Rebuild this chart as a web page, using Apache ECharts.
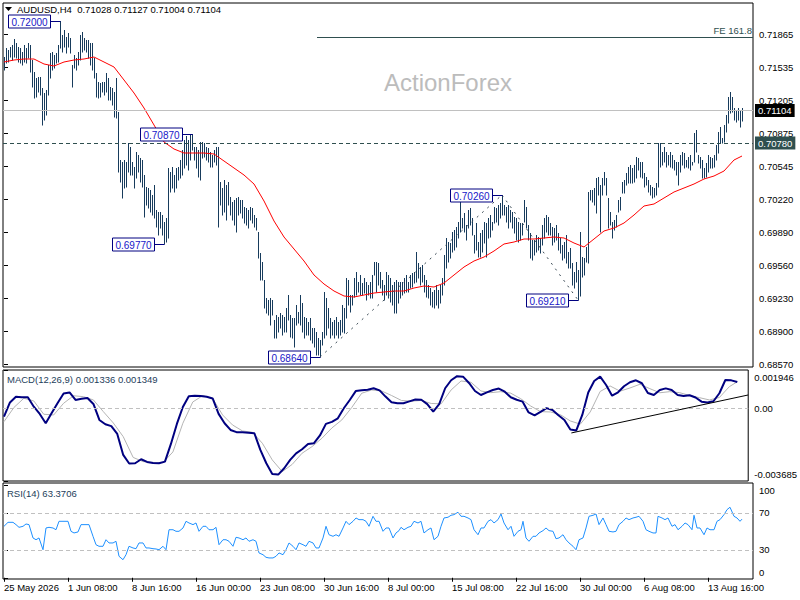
<!DOCTYPE html>
<html><head><meta charset="utf-8">
<script src="https://cdn.jsdelivr.net/npm/echarts@6/dist/echarts.min.js"></script>
<style>html,body{margin:0;padding:0;background:#fff}#c{width:800px;height:600px}</style>
</head><body><div id="c"></div>
<script>
const highs = [
0.7164,0.7173,0.7171,0.7174,0.7176,0.7182,0.7178,0.7174,0.7173,0.7169,
0.7176,0.7173,0.7178,0.7176,0.7161,0.7149,0.7143,0.7144,0.7144,0.7133,
0.7128,0.7131,0.7156,0.7168,0.7169,0.7166,0.7168,0.7176,0.7200,0.7186,
0.7191,0.7184,0.7188,0.7183,0.7156,0.7166,0.7163,0.7169,0.7186,0.7189,
0.7183,0.7181,0.7181,0.7178,0.7178,0.7163,0.7148,0.7139,0.7138,0.7139,
0.7139,0.7148,0.7143,0.7134,0.7133,0.7129,0.7143,0.7109,0.7061,0.7059,
0.7061,0.7059,0.7078,0.7074,0.7059,0.7054,0.7069,0.7066,0.7063,0.7061,
0.7046,0.7034,0.7033,0.7031,0.7026,0.7036,0.7011,0.7009,0.7009,0.7006,
0.6999,0.7003,0.7053,0.7049,0.7054,0.7046,0.7053,0.7054,0.7061,0.7071,
0.7081,0.7085,0.7081,0.7086,0.7087,0.7074,0.7074,0.7071,0.7079,0.7079,
0.7078,0.7074,0.7073,0.7069,0.7066,0.7071,0.7074,0.7074,0.7039,0.7033,
0.7041,0.7036,0.7039,0.7024,0.7019,0.7021,0.7023,0.7024,0.7021,0.7021,
0.7014,0.7013,0.7011,0.7014,0.7013,0.7006,0.7003,0.6989,0.6968,0.6959,
0.6941,0.6923,0.6921,0.6923,0.6921,0.6901,0.6906,0.6904,0.6908,0.6906,
0.6904,0.6913,0.6926,0.6906,0.6903,0.6903,0.6916,0.6909,0.6926,0.6918,
0.6904,0.6903,0.6899,0.6903,0.6893,0.6893,0.6889,0.6883,0.6881,0.6889,
0.6929,0.6923,0.6913,0.6903,0.6899,0.6901,0.6904,0.6899,0.6901,0.6916,
0.6913,0.6943,0.6941,0.6926,0.6926,0.6943,0.6949,0.6939,0.6946,0.6938,
0.6943,0.6939,0.6936,0.6939,0.6946,0.6959,0.6959,0.6958,0.6949,0.6941,
0.6936,0.6949,0.6946,0.6943,0.6936,0.6939,0.6941,0.6939,0.6939,0.6939,
0.6943,0.6946,0.6939,0.6946,0.6948,0.6949,0.6969,0.6958,0.6954,0.6956,
0.6946,0.6941,0.6936,0.6933,0.6929,0.6931,0.6936,0.6931,0.6936,0.6943,
0.6966,0.6983,0.6979,0.6978,0.6989,0.6991,0.6994,0.6999,0.7021,0.7003,
0.7008,0.6996,0.7011,0.7013,0.7003,0.6986,0.6998,0.6979,0.6988,0.6991,
0.6999,0.6998,0.7003,0.7006,0.6999,0.7014,0.7013,0.7016,0.7018,0.7026,
0.7016,0.7014,0.7016,0.7011,0.7009,0.7004,0.7003,0.6999,0.6998,0.6998,
0.7021,0.7014,0.6996,0.6988,0.6981,0.6981,0.6986,0.6984,0.6983,0.6996,
0.7003,0.7006,0.7004,0.6998,0.6994,0.6993,0.6996,0.6988,0.6983,0.6976,
0.6979,0.6986,0.6969,0.6973,0.6958,0.6949,0.6959,0.6951,0.6989,0.6964,
0.6963,0.6974,0.7029,0.7031,0.7031,0.7033,0.7043,0.7044,0.7036,0.7043,
0.7049,0.7043,0.7023,0.7009,0.6999,0.7001,0.7006,0.7021,0.7024,0.7039,
0.7041,0.7048,0.7054,0.7056,0.7053,0.7056,0.7064,0.7063,0.7059,0.7059,
0.7048,0.7044,0.7041,0.7036,0.7034,0.7033,0.7038,0.7078,0.7078,0.7069,
0.7074,0.7069,0.7066,0.7069,0.7066,0.7061,0.7059,0.7059,0.7066,0.7069,
0.7068,0.7061,0.7064,0.7066,0.7059,0.7088,0.7091,0.7066,0.7064,0.7061,
0.7053,0.7058,0.7066,0.7064,0.7063,0.7066,0.7076,0.7089,0.7094,0.7083,
0.7096,0.7106,0.7124,0.7129,0.7124,0.7113,0.7111,0.7113,0.7111,0.71127
];
const lows = [
0.7151,0.7158,0.7159,0.7164,0.7161,0.7164,0.7163,0.7159,0.7158,0.7156,
0.7159,0.7158,0.7163,0.7149,0.7134,0.7123,0.7124,0.7129,0.7126,0.7096,
0.7101,0.7106,0.7126,0.7143,0.7151,0.7153,0.7158,0.7159,0.7173,0.7169,
0.7174,0.7168,0.7174,0.7168,0.7134,0.7153,0.7151,0.7156,0.7161,0.7169,
0.7171,0.7169,0.7163,0.7156,0.7151,0.7143,0.7124,0.7123,0.7124,0.7129,
0.7126,0.7129,0.7121,0.7121,0.7116,0.7104,0.7103,0.7049,0.7039,0.7023,
0.7033,0.7034,0.7049,0.7046,0.7046,0.7033,0.7043,0.7049,0.7039,0.7034,
0.7004,0.7016,0.7013,0.7009,0.7006,0.7003,0.6994,0.6986,0.6993,0.6986,
0.6977,0.6979,0.6983,0.7029,0.7033,0.7029,0.7033,0.7041,0.7043,0.7046,
0.7053,0.7056,0.7051,0.7061,0.7071,0.7061,0.7053,0.7044,0.7041,0.7063,
0.7064,0.7061,0.7059,0.7054,0.7054,0.7059,0.7056,0.6994,0.7016,0.7006,
0.7009,0.7001,0.7016,0.7006,0.7001,0.6996,0.6989,0.7006,0.7008,0.7003,
0.6998,0.6996,0.6993,0.7001,0.6998,0.6994,0.6991,0.6963,0.6941,0.6941,
0.6913,0.6908,0.6906,0.6896,0.6906,0.6883,0.6883,0.6889,0.6893,0.6886,
0.6889,0.6889,0.6901,0.6884,0.6883,0.6874,0.6896,0.6898,0.6896,0.6889,
0.6883,0.6886,0.6886,0.6881,0.6878,0.6874,0.6866,0.6866,0.6864,0.6876,
0.6883,0.6886,0.6893,0.6883,0.6886,0.6883,0.6886,0.6883,0.6886,0.6889,
0.6888,0.6903,0.6916,0.6909,0.6916,0.6924,0.6926,0.6929,0.6926,0.6926,
0.6928,0.6921,0.6926,0.6923,0.6923,0.6946,0.6929,0.6936,0.6933,0.6926,
0.6921,0.6926,0.6923,0.6919,0.6916,0.6908,0.6908,0.6918,0.6923,0.6926,
0.6928,0.6929,0.6929,0.6933,0.6934,0.6938,0.6939,0.6943,0.6936,0.6939,
0.6929,0.6924,0.6923,0.6916,0.6914,0.6913,0.6916,0.6913,0.6918,0.6926,
0.6936,0.6953,0.6959,0.6963,0.6969,0.6971,0.6974,0.6983,0.6989,0.6993,
0.6989,0.6981,0.6993,0.6996,0.6986,0.6968,0.6971,0.6964,0.6964,0.6969,
0.6978,0.6964,0.6983,0.6984,0.6991,0.6998,0.6999,0.6996,0.7003,0.7006,
0.7006,0.6999,0.6993,0.6999,0.6993,0.6988,0.6981,0.6979,0.6981,0.6986,
0.6999,0.6993,0.6981,0.6963,0.6961,0.6966,0.6969,0.6971,0.6968,0.6976,
0.6983,0.6989,0.6986,0.6986,0.6976,0.6979,0.6981,0.6971,0.6968,0.6961,
0.6963,0.6958,0.6953,0.6953,0.6936,0.6933,0.6939,0.6921,0.6925,0.6944,
0.6946,0.6959,0.6958,0.7021,0.7019,0.7016,0.7008,0.7026,0.6989,0.7026,
0.7036,0.7026,0.6993,0.6996,0.6983,0.6991,0.6994,0.7009,0.7011,0.7028,
0.7028,0.7036,0.7038,0.7038,0.7038,0.7039,0.7043,0.7051,0.7044,0.7043,
0.7034,0.7036,0.7029,0.7026,0.7023,0.7024,0.7026,0.7034,0.7054,0.7056,
0.7059,0.7054,0.7056,0.7054,0.7053,0.7051,0.7046,0.7036,0.7049,0.7056,
0.7053,0.7054,0.7053,0.7051,0.7056,0.7059,0.7069,0.7058,0.7053,0.7043,
0.7043,0.7044,0.7049,0.7053,0.7053,0.7054,0.7061,0.7068,0.7078,0.7078,
0.7079,0.7089,0.7098,0.7108,0.7109,0.7101,0.7099,0.7101,0.7094,0.71004
];
const ma = [
[0,0.7159],[5,0.7161],[10,0.7162],[15,0.7162],[20,0.7157],[25,0.7155],[30,0.7159],[35,0.7161],[40,0.7162],[45,0.7164],
[50,0.7159],[55,0.7154],[60,0.7141],[65,0.7128],[70,0.7113],[75,0.7096],[80,0.7079],[85,0.7072],[90,0.7068],[95,0.7068],
[100,0.7068],[105,0.7067],[110,0.7060],[115,0.7053],[120,0.7046],[125,0.7037],[130,0.7020],[135,0.7000],[140,0.6984],[145,0.6972],
[150,0.6960],[155,0.6946],[160,0.6937],[165,0.6930],[170,0.6925],[175,0.6924],[180,0.6926],[185,0.6928],[190,0.6929],[195,0.6930],
[200,0.6930],[205,0.6933],[210,0.6935],[215,0.6934],[220,0.6938],[225,0.6946],[230,0.6954],[235,0.6960],[240,0.6964],[245,0.6970],
[250,0.6977],[255,0.6979],[260,0.6982],[265,0.6982],[270,0.6983],[275,0.6984],[280,0.6983],[285,0.6978],[290,0.6974],[295,0.6982],
[300,0.6990],[305,0.6993],[310,0.6998],[315,0.7006],[320,0.7015],[325,0.7017],[330,0.7023],[335,0.7029],[340,0.7033],[345,0.7037],
[350,0.7042],[355,0.7045],[360,0.7050],[365,0.7061],[369,0.7065]
];
// MACD main, one reading every 3 bars (bar 0..369)
const macdMain = [
-0.000421,0.000299,0.000588,0.000563,0.000563,0.000086,-0.000284,-0.000755,-0.000233,0.000274,
0.000755,0.000806,0.000426,0.000487,0.000527,0.000223,-0.000588,-0.000806,-0.000902,-0.001298,
-0.002363,-0.002799,-0.002783,-0.002581,-0.002718,-0.002768,-0.002783,-0.002702,-0.001805,-0.000791,
0.000071,0.000619,0.000644,0.000629,0.000593,0.000502,-0.000279,-0.000755,-0.001095,-0.001207,
-0.001212,-0.001232,-0.001262,-0.002109,-0.002783,-0.003326,-0.003361,-0.003037,-0.002616,-0.002282,
-0.002074,-0.001810,-0.001769,-0.001374,-0.000786,-0.000684,-0.000507,0.000005,0.000426,0.000877,
0.000923,0.000948,0.001019,0.000913,0.000598,0.000314,0.000259,0.000259,0.000355,0.000451,
0.000436,0.000213,-0.000167,0.000213,0.001019,0.001425,0.001633,0.001607,0.001288,0.000882,
0.000679,0.000811,0.000933,0.001004,0.000847,0.000563,0.000436,0.000340,-0.000208,-0.000355,
-0.000183,0.000010,-0.000081,-0.000350,-0.000588,-0.001075,-0.001120,-0.000335,0.000806,0.001389,
0.001607,0.001186,0.000644,0.000816,0.001120,0.001323,0.001425,0.001273,0.000781,0.000679,
0.000933,0.001014,0.000933,0.000674,0.000624,0.000664,0.000553,0.000340,0.000294,0.000360,
0.000766,0.001440,0.001420,0.001336
];
// MACD signal, one reading every 5 bars, last at bar 369
const macdSignal = [
-0.000674,0.000046,0.000512,0.000375,-0.000299,-0.000335,0.000259,0.000639,0.000593,0.000426,
-0.000167,-0.000740,-0.001435,-0.002489,-0.002702,-0.002743,-0.002753,-0.002211,-0.000755,0.000324,
0.000644,0.000502,-0.000335,-0.000842,-0.001146,-0.001212,-0.001769,-0.002616,-0.003209,-0.002844,
-0.002276,-0.001942,-0.001516,-0.000994,-0.000588,0.000046,0.000766,0.000933,0.000882,0.000654,
0.000401,0.000365,0.000401,0.000248,0.000233,0.000933,0.001389,0.001323,0.000882,0.000796,
0.000847,0.000771,0.000492,0.000122,-0.000167,-0.000183,-0.000324,-0.000639,-0.000801,-0.000183,
0.000857,0.001136,0.000872,0.001034,0.001222,0.000999,0.000791,0.000847,0.000796,0.000654,
0.000542,0.000426,0.000553,0.001100,0.001349
];
const rsi = [
[0,55.6],[2,59.9],[4.5,59.9],[6,57.4],[7.5,54.5],[9.5,55.6],[11,58.1],[12.5,57.4],[14.5,43.0],[16,41.1],[17.5,43.0],[19.5,30.3],
[21,53.8],[22.5,54.5],[24.5,53.8],[26,51.9],[27.5,61.0],[29.5,61.0],[32,61.0],[33.5,50.2],[35,48.4],[37,49.5],[38.5,57.4],[40,57.4],
[42.5,57.4],[44.5,44.8],[46,35.7],[47.5,34.0],[49.5,34.0],[51,41.1],[52.5,37.6],[54.5,37.6],[56,39.4],[57.5,23.2],[59.5,19.5],[61,24.9],
[62.5,34.0],[64.5,32.2],[66,31.4],[67.5,37.6],[69.5,37.6],[71,32.2],[72.5,32.2],[74.5,31.4],[76,31.1],[77.5,30.3],[79.5,34.0],[81,30.3],
[82.5,51.9],[84.5,51.9],[86,50.2],[87.5,50.2],[89.5,53.8],[91,61.0],[92.5,59.2],[94.5,57.4],[96,59.2],[97.5,50.2],[99.5,55.6],[101,55.6],
[102.5,51.9],[104.5,51.9],[106,54.5],[107.5,35.7],[109.5,41.1],[111,41.1],[112.5,39.4],[114.5,34.0],[116,43.7],[117.5,43.0],[119.5,41.1],[121,43.0],
[122.5,39.4],[124.5,41.1],[126,39.4],[127.5,26.8],[129.5,24.9],[131,22.1],[132.5,21.4],[134.5,21.4],[136,23.2],[137.5,26.8],[139.5,24.9],[141,30.3],
[142.5,37.6],[144.5,34.0],[146,30.3],[147.5,37.6],[149.5,35.7],[151,34.0],[152.5,39.4],[154.5,37.6],[156,32.2],[157.5,32.2],[159.5,43.0],[161,55.6],
[162.5,46.5],[164.5,44.8],[166,46.5],[167.5,44.8],[169.5,53.8],[171,61.0],[172.5,57.4],[174.5,61.0],[176,64.6],[177.5,62.8],[179.5,62.8],[181,61.0],
[182.5,55.6],[184.5,66.4],[186,61.0],[187.5,61.0],[189.5,50.2],[191,53.8],[192.5,53.8],[194.5,43.0],[196,48.4],[197.5,50.9],[198.5,54.5],[200,51.9],
[202,54.5],[203.5,55.6],[205,61.0],[207,59.2],[208.5,61.0],[210,48.4],[212,51.9],[213.5,53.8],[215,41.1],[217,44.8],[218.5,55.6],[220,64.6],
[222,65.4],[223.5,67.5],[225,68.2],[227,70.8],[228.5,66.4],[230,66.4],[232,64.6],[233.5,62.8],[235,51.9],[237,46.5],[238.5,53.8],[240,53.8],
[242,61.0],[243.5,62.8],[245,59.2],[247,62.8],[248.5,68.9],[250,59.2],[252,51.9],[253.5,55.6],[255,44.8],[257,50.2],[258.5,51.9],[259.5,61.0],
[261,43.0],[262.5,39.4],[264.5,44.8],[266,44.8],[267.5,48.4],[269.5,50.9],[271,53.8],[272.5,50.9],[274.5,50.2],[276,42.2],[277.5,43.0],[279.5,46.5],
[281,41.1],[282.5,37.6],[284.5,34.0],[286,30.3],[287.5,41.1],[289.5,43.0],[291,53.8],[292.5,66.4],[294.5,67.5],[296,68.9],[297.5,57.4],[299.5,64.6],
[301,57.4],[302.5,50.2],[304.5,49.5],[306,50.2],[307.5,57.4],[309.5,61.0],[311,64.6],[312.5,62.8],[314.5,64.6],[316,65.4],[317.5,66.4],[319.5,61.0],
[321,51.9],[322.5,50.2],[324.5,48.4],[326,48.4],[327,66.4],[329,64.6],[330.5,62.8],[332,64.6],[334,55.6],[335.5,57.4],[337,51.9],[339,55.6],
[340.5,59.2],[342,57.4],[344,51.9],[345,67.5],[346.5,53.8],[348,53.8],[350,46.5],[351.5,53.8],[353,51.9],[355,51.9],[356.5,61.0],[358,62.8],
[360,68.2],[361.5,73.6],[363,76.2],[365,66.4],[366.5,64.6],[368,61.0],[369,63.37]
];
const priceTicks = [0.68570,0.68900,0.69230,0.69560,0.69890,0.70220,0.70545,0.70875,0.71205,0.71535,0.71865];
const timeLabels = ['25 May 2026','1 Jun 08:00','8 Jun 16:00','16 Jun 00:00','23 Jun 08:00','30 Jun 16:00','8 Jul 00:00','15 Jul 08:00','22 Jul 16:00','30 Jul 00:00','6 Aug 08:00','13 Aug 16:00'];
const timeLabelBars = [0,32,64,96,128,160,192,224,256,288,320,352];
const pivotBar = [28,94,80,158,249,287];
const pivotPrice = [0.72000,0.70870,0.69770,0.68640,0.70260,0.69210];
const lastPrice = 0.71104;
const levelPrice = 0.70780;
const fePrice = 0.71840;
const feStartBar = 156.5;
const macdTrend = [[285.5,-0.001247],[374.5,0.000679]];
const macdMax = 0.001946, macdMin = -0.003685;
const rsiTicks = [100,70,30,0];
const rsiLevels = [70,30];

const FONT = 'Liberation Sans';
const X0 = -0.5, X1 = 374.5;
const chart = echarts.init(document.getElementById('c'), null, {renderer:'svg'});
const xBase = {type:'value', min:X0, max:X1, splitLine:{show:false}, axisLine:{show:false}};
const noX = Object.assign({}, xBase, {axisLabel:{show:false}, axisTick:{show:false}});
const lbl = {fontSize:9.5, color:'#000', fontFamily:FONT};
const tag = (v, bg) => ({show:true, position:'end', distance:2, formatter:v.toFixed(5), backgroundColor:bg, color:'#fff', padding:[2,3,1,3], fontSize:9.5, fontFamily:FONT});
const hLine = (v, style, label) => [{coord:[X0, v], lineStyle:style, label:label || {show:false}}, {coord:[X1, v]}];

chart.setOption({
  animation:false,
  textStyle:{fontFamily:FONT},
  grid:[
    {left:3, top:3, width:750, height:364, show:true, borderColor:'#000', borderWidth:1, backgroundColor:'transparent'},
    {left:3, top:370, width:750, height:111, show:true, borderColor:'#000', borderWidth:1},
    {left:3, top:483, width:750, height:96, show:true, borderColor:'#000', borderWidth:1}
  ],
  xAxis:[
    Object.assign({gridIndex:0}, noX),
    Object.assign({gridIndex:1}, noX),
    Object.assign({gridIndex:2}, xBase, {
      axisLabel:{show:true, customValues:timeLabelBars, formatter:v=>timeLabels[timeLabelBars.indexOf(v)], align:'left', margin:3, fontSize:9.5, color:'#000', fontFamily:FONT},
      axisTick:{show:true, customValues:timeLabelBars, length:4, lineStyle:{color:'#000'}}
    })
  ],
  yAxis:[
    {gridIndex:0, type:'value', position:'right', min:0.6854, max:0.7218, splitLine:{show:false}, axisLine:{show:false},
     axisTick:{show:true, customValues:priceTicks, length:4, lineStyle:{color:'#000'}},
     axisLabel:Object.assign({customValues:priceTicks, formatter:v=>v.toFixed(5), margin:6}, lbl)},
    {gridIndex:1, type:'value', position:'right', min:macdMin, max:macdMax, splitLine:{show:false}, axisLine:{show:false},
     axisTick:{show:true, customValues:[macdMax,0,macdMin], length:4, lineStyle:{color:'#000'}},
     axisLabel:Object.assign({customValues:[macdMax,0,macdMin], margin:6,
       formatter:v=>{ if(v===macdMax) return '{t|'+v.toFixed(6)+'}'; if(v===macdMin) return '{b|'+v.toFixed(6)+'}'; return '0.00'; },
       rich:{t:Object.assign({padding:[14,0,0,0]},lbl), b:Object.assign({padding:[0,0,14,0]},lbl)}}, lbl)},
    {gridIndex:2, type:'value', position:'right', min:-1.35, max:102.4, splitLine:{show:false}, axisLine:{show:false},
     axisTick:{show:true, customValues:rsiTicks, length:4, lineStyle:{color:'#000'}},
     axisLabel:Object.assign({customValues:rsiTicks, margin:6,
       formatter:v=>{ if(v===100) return '{t|100}'; if(v===0) return '{b|0}'; return String(v); },
       rich:{t:Object.assign({padding:[10,0,0,0]},lbl), b:Object.assign({padding:[0,0,10,0]},lbl)}}, lbl)}
  ],
  graphic:[
    {type:'text', left:384, top:70, z:0, silent:true, style:{text:'ActionForex', fill:'#bcbcbc', font:'24px "Liberation Sans"'}},
    {type:'polygon', z:10, shape:{points:[[5,7],[12,7],[8.5,11]]}, style:{fill:'#000'}},
    {type:'text', left:17, top:4, z:10, style:{text:'AUDUSD,H4  0.71028 0.71127 0.71004 0.71104', fill:'#000', font:'9.5px "Liberation Sans"'}},
    {type:'text', left:7, top:374, z:10, style:{text:'MACD(12,26,9) 0.001336 0.001349', fill:'#1c3d5a', font:'9.5px "Liberation Sans"'}},
    {type:'text', left:7, top:488, z:10, style:{text:'RSI(14) 63.3706', fill:'#1c3d5a', font:'9.5px "Liberation Sans"'}}
  ],
  series:[
    {type:'custom', xAxisIndex:0, yAxisIndex:0, silent:true, z:3,
     data:highs.map((h,i)=>[i, lows[i], h]),
     encode:{x:0, y:[1,2]},
     renderItem:(p, api)=>{
       const lo = api.coord([api.value(0), api.value(1)]);
       const hi = api.coord([api.value(0), api.value(2)]);
       const x = Math.round(lo[0]) + 0.5;
       return {type:'line', shape:{x1:x, y1:Math.round(lo[1])+0.5, x2:x, y2:Math.round(hi[1])}, style:{stroke:'#173b5c', lineWidth:1}};
     }},
    {type:'line', xAxisIndex:0, yAxisIndex:0, data:ma, showSymbol:false, z:4,
     lineStyle:{color:'#ff0000', width:1},
     markLine:{symbol:['none','none'], silent:true, animation:false, label:{show:false},
       data:[
         hLine(lastPrice, {color:'#c0c0c0', type:'solid', width:1}, tag(lastPrice, '#000')),
         hLine(levelPrice, {color:'#2f4f4f', type:[4,3], width:1}, tag(levelPrice, '#2f4f4f')),
         [{coord:[feStartBar, fePrice], lineStyle:{color:'#2f4f4f', type:'solid', width:1},
           label:{show:true, position:'insideEndTop', distance:[1,2], formatter:'FE 161.8', color:'#2f4f4f', fontSize:9.5, fontFamily:FONT}},
          {coord:[X1, fePrice]}],
         [{coord:[pivotBar[3], pivotPrice[3]], lineStyle:{color:'#3a4a55', type:[2,5], width:1}},
          {coord:[pivotBar[4], pivotPrice[4]]}],
         [{coord:[pivotBar[4], pivotPrice[4]], lineStyle:{color:'#3a4a55', type:[2,5], width:1}},
          {coord:[pivotBar[5], pivotPrice[5]]}]
       ]}},
    {type:'custom', xAxisIndex:0, yAxisIndex:0, silent:true, z:6,
     data:pivotBar.map((b,k)=>[b, pivotPrice[k]]),
     encode:{x:0, y:1},
     renderItem:(p, api)=>{
       const pt = api.coord([api.value(0), api.value(1)]);
       const px = Math.round(pt[0]) + 0.5, py = Math.round(pt[1]) + 0.5;
       const w = 42, h = 13, rx = px - 10 - w;
       return {type:'group', children:[
         {type:'line', shape:{x1:rx+w, y1:py, x2:px, y2:py}, style:{stroke:'#000080', lineWidth:1}},
         {type:'rect', shape:{x:rx, y:py-6.5, width:w, height:h}, style:{fill:'#fff', stroke:'#000080', lineWidth:1}},
         {type:'text', x:rx + w/2, y:py + 0.5, style:{text:pivotPrice[p.dataIndex].toFixed(5), fill:'#1717c8', font:'10px "Liberation Sans"', align:'center', verticalAlign:'middle'}}
       ]};
     }},
    {type:'line', xAxisIndex:1, yAxisIndex:1, showSymbol:false, z:3,
     data:macdSignal.map((v,k)=>[Math.min(k*5,369), v]),
     lineStyle:{color:'#b4b4b4', width:1},
     markLine:{symbol:['none','none'], silent:true, label:{show:false},
       data:[
         hLine(0, {color:'#c0c0c0', type:[4,3], width:1}),
         [{coord:macdTrend[0], lineStyle:{color:'#000', type:'solid', width:1}}, {coord:macdTrend[1]}]
       ]}},
    {type:'line', xAxisIndex:1, yAxisIndex:1, showSymbol:false, z:4,
     data:macdMain.map((v,k)=>[k*3, v]),
     lineStyle:{color:'#000080', width:2}},
    {type:'line', xAxisIndex:2, yAxisIndex:2, showSymbol:false, z:4,
     data:rsi, lineStyle:{color:'#1e90ff', width:1},
     markLine:{symbol:['none','none'], silent:true, label:{show:false},
       data:rsiLevels.map(v=>hLine(v, {color:'#c0c0c0', type:[4,3], width:1}))}}
  ]
});
</script>
</body></html>
